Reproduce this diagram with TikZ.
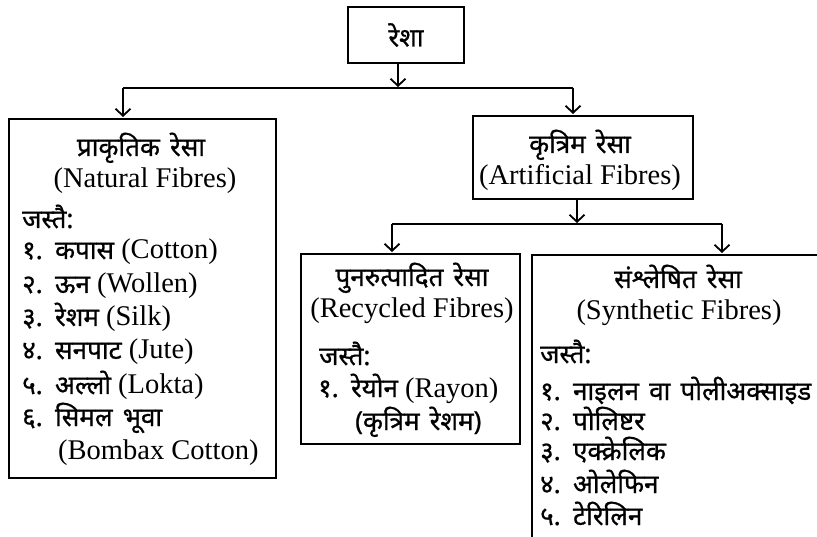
\documentclass[tikz,border=0pt]{standalone}
\usepackage{fontspec}
\setmainfont{Liberation Serif}
\newfontfamily\dev[Script=Devanagari, FakeBold=0.8, WordSpace=1.5]{Noto Sans}
\usetikzlibrary{arrows.meta}
\newcommand{\D}[1]{{\dev\fontsize{26}{28}\selectfont #1}}
\begin{document}
\begin{tikzpicture}[x=1pt,y=-1pt,
  box/.style={draw, line width=2pt, inner sep=0, rectangle},
  ln/.style={line width=1.8pt},
  arr/.style={line width=1.8pt, -{Straight Barb[length=7pt,width=15pt,line width=1.8pt]}, shorten >=1pt},
  txt/.style={inner sep=0, font=\fontsize{28.5}{30}\selectfont, anchor=base},
  lt/.style={txt, anchor=base west},
]
\useasboundingbox (0,0) rectangle (817,537);
\clip (0,0) rectangle (817,537);

% boxes
\node[box, minimum width=116pt, minimum height=56pt] (top) at (406,35) {\D{रेशा}};
\node[box, minimum width=267pt, minimum height=359pt, anchor=north west] (nat) at (8,118) {};
\node[box, minimum width=220pt, minimum height=83pt, anchor=north west] (art) at (472,115) {};
\node[box, minimum width=219pt, minimum height=190pt, anchor=north west] (rec) at (300,253) {};
\node[box, minimum width=300pt, minimum height=320pt, anchor=north west] (syn) at (531,254) {};

% connectors
\coordinate (j1) at (398,88);
\coordinate (a1) at (123,88);
\coordinate (a2) at (573,88);
\draw[arr] (top.south -| j1) -- (j1);
\draw[ln] (a1) -- (a2);
\draw[arr] (a1) -- (a1 |- nat.north);
\draw[arr] (a2) -- (a2 |- art.north);
\coordinate (j2) at (577,224);
\coordinate (b1) at (392,224);
\coordinate (b2) at (722,224);
\draw[arr] (art.south -| j2) -- (j2);
\draw[ln] (b1) -- (b2);
\draw[arr] (b1) -- (b1 |- rec.north);
\draw[arr] (b2) -- (b2 |- syn.north);

% natural fibres
\node[txt] (n0) at (141,156) {\D{प्राकृतिक रेसा}};
\node[txt] (n1) at (145,188) {(Natural Fibres)};
\node[lt] (n2) at (22,228) {\D{जस्तै:}};
\node[lt] (n3) at (22,259) {\D{१. कपास} (Cotton)};
\node[lt] (n4) at (22,293) {\D{२. ऊन} (Wollen)};
\node[lt] (n5) at (22,326) {\D{३. रेशम} (Silk)};
\node[lt] (n6) at (22,359) {\D{४. सनपाट} (Jute)};
\node[lt] (n7) at (22,394) {\D{५. अल्लो} (Lokta)};
\node[lt] (n8) at (22,426) {\D{६. सिमल भूवा}};
\node[lt] (n9) at (58,459) {(Bombax Cotton)};

% artificial fibres
\node[txt] (r0) at (580,153) {\D{कृत्रिम रेसा}};
\node[txt] (r1) at (580,185) {(Artificial Fibres)};

% recycled fibres
\node[txt] (c0) at (412,286) {\D{पुनरुत्पादित रेसा}};
\node[txt] (c1) at (412,318) {(Recycled Fibres)};
\node[lt] (c2) at (319,365) {\D{जस्तै:}};
\node[lt] (c3) at (318,397) {\D{१. रेयोन} (Rayon)};
\node[lt] (c4) at (355,430) {\D{(कृत्रिम रेशम)}};

% synthetic fibres
\node[txt] (s0) at (678,288) {\D{संश्लेषित रेसा}};
\node[txt] (s1) at (679,320) {(Synthetic Fibres)};
\node[lt] (s2) at (540,363) {\D{जस्तै:}};
\node[lt] (s3) at (540,400) {\D{१. नाइलन वा पोलीअक्साइड}};
\node[lt] (s4) at (540,430) {\D{२. पोलिष्टर}};
\node[lt] (s5) at (540,460) {\D{३. एक्क्रेलिक}};
\node[lt] (s6) at (540,493) {\D{४. ओलेफिन}};
\node[lt] (s7) at (540,525) {\D{५. टेरिलिन}};
\end{tikzpicture}
\end{document}
